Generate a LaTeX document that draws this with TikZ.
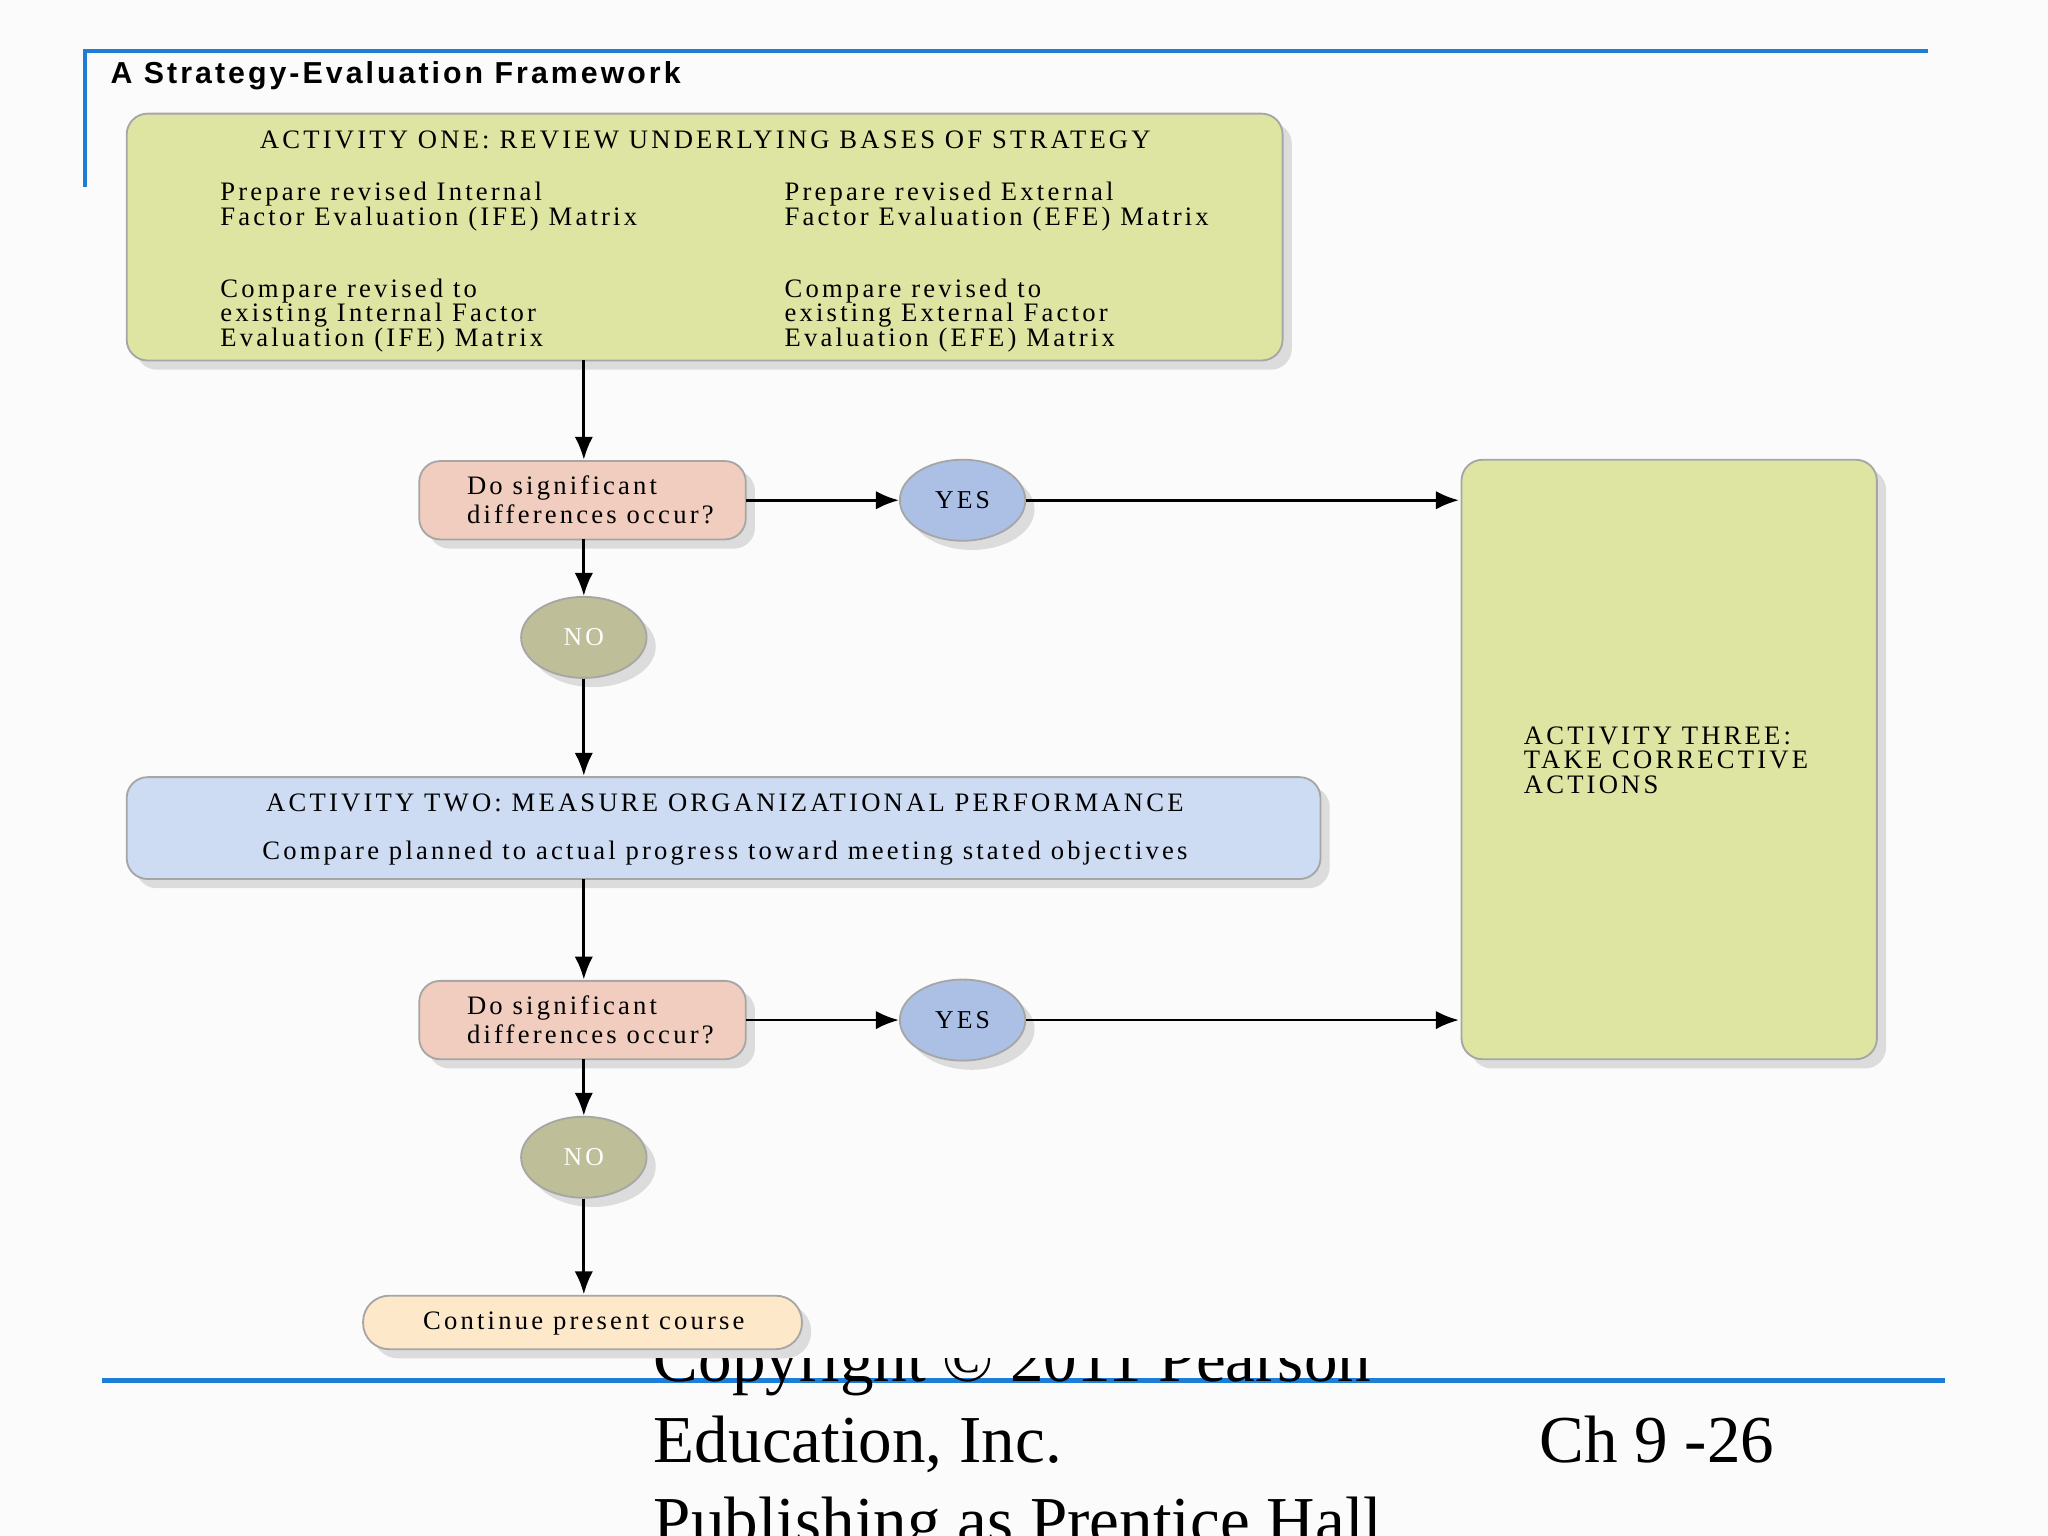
\documentclass[tikz,border=0pt]{standalone}
\usepackage{fontspec}
\setmainfont{Liberation Serif}
\newfontfamily\boxf[LetterSpace=12]{Liberation Serif}
\newfontfamily\titf[LetterSpace=10]{Liberation Sans}
\usetikzlibrary{shapes.geometric,shadows,arrows.meta}
\definecolor{bl}{RGB}{30,125,215}
\definecolor{yg}{RGB}{222,228,162}
\definecolor{pk}{RGB}{240,205,190}
\definecolor{yb}{RGB}{172,192,230}
\definecolor{ng}{RGB}{190,190,152}
\definecolor{lb}{RGB}{205,220,242}
\definecolor{cr}{RGB}{253,232,202}
\tikzset{
 box/.style={draw=gray!70, rounded corners=0.16cm, drop shadow={shadow xshift=2pt,shadow yshift=-2pt,opacity=.25}},
 txt/.style={font=\boxf\fontsize{5.8pt}{5.3pt}\selectfont, align=left, inner sep=0},
 ell/.style={ellipse, draw=gray!70, minimum width=0.96cm, minimum height=0.62cm, inner sep=0, drop shadow={shadow xshift=2pt,shadow yshift=-2pt,opacity=.25}, font=\boxf\fontsize{5.6pt}{6pt}\selectfont},
 arr/.style={-{Latex[length=5pt,width=4pt]}, line width=0.6pt}
}
\begin{document}
\begin{tikzpicture}[x=0.01cm,y=-0.01cm]
\fill[white!97!gray] (0,0) rectangle (1568,1176);
\useasboundingbox (0,0) rectangle (1568,1176);
\draw[bl,line width=1pt] (65,143) -- (65,39) -- (1476,39);
\node[anchor=west,font=\titf\bfseries\fontsize{6.6pt}{7pt}\selectfont,inner sep=0] (title) at (84,58) {A Strategy-Evaluation Framework};
% box 1
\draw[box,fill=yg] (97,87) rectangle (982,276);
\node[txt] (h1) at (540,107) {ACTIVITY ONE: REVIEW UNDERLYING BASES OF STRATEGY};
\node[txt,anchor=north west] (a1) at (168,139) {Prepare revised Internal\\Factor Evaluation (IFE) Matrix};
\node[txt,anchor=north west] (a2) at (600,139) {Prepare revised External\\Factor Evaluation (EFE) Matrix};
\node[txt,anchor=north west] (a3) at (168,213) {Compare revised to\\existing Internal Factor\\Evaluation (IFE) Matrix};
\node[txt,anchor=north west] (a4) at (600,213) {Compare revised to\\existing External Factor\\Evaluation (EFE) Matrix};
% decision 1
\draw[box,fill=pk] (321,353) rectangle (571,413);
\node[txt] (d1) at (452,383) {Do significant\\differences occur?};
\node[ell,fill=yb] (y1) at (737,383) {YES};
\node[ell,fill=ng,text=white] (n1) at (447,488) {NO};
% activity three
\draw[box,fill=yg] (1119,352) rectangle (1437,811);
\node[txt,anchor=west] (act3) at (1166,582) {ACTIVITY THREE:\\TAKE CORRECTIVE\\ACTIONS};
% box 2
\draw[box,fill=lb] (97,595) rectangle (1011,673);
\node[txt] (h2) at (555,615) {ACTIVITY TWO: MEASURE ORGANIZATIONAL PERFORMANCE};
\node[txt] (h2b) at (555,653) {Compare planned to actual progress toward meeting stated objectives};
% decision 2
\draw[box,fill=pk] (321,751) rectangle (571,811);
\node[txt] (d2) at (452,781) {Do significant\\differences occur?};
\node[ell,fill=yb] (y2) at (737,781) {YES};
\node[ell,fill=ng,text=white] (n2) at (447,886) {NO};
\draw[box,fill=cr,rounded corners=0.2cm] (278,992) rectangle (614,1033);
\node[txt] (cont) at (447,1013) {Continue present course};
% arrows
\draw[arr] (447,276) -- (447,352);
\draw[arr] (571,383) -- (y1.west);
\draw[arr] (y1.east) -- (1117,383);
\draw[arr] (447,413) -- (n1.north);
\draw[arr] (n1.south) -- (447,594);
\draw[arr] (447,673) -- (447,750);
\draw[arr] (571,781) -- (y2.west);
\draw[arr] (y2.east) -- (1117,781);
\draw[arr] (447,811) -- (n2.north);
\draw[arr] (n2.south) -- (447,991);
% footer
\draw[bl,line width=1pt] (78,1057) -- (1489,1057);
\begin{scope}
\clip (0,1040) rectangle (1568,1176);
\node[anchor=base west,font=\fontsize{14.6pt}{16pt}\selectfont,inner sep=0] (f0) at (500,1058) {Copyright © 2011 Pearson};
\node[anchor=base west,font=\fontsize{14.6pt}{16pt}\selectfont,inner sep=0] (f2) at (500,1182) {Publishing as Prentice Hall};
\end{scope}
\node[anchor=base west,font=\fontsize{14.6pt}{16pt}\selectfont,inner sep=0] (f1) at (500,1120) {Education, Inc.};
\node[anchor=base west,font=\fontsize{14.6pt}{16pt}\selectfont,inner sep=0] (f3) at (1178,1120) {Ch 9 -26};
\end{tikzpicture}
\end{document}
